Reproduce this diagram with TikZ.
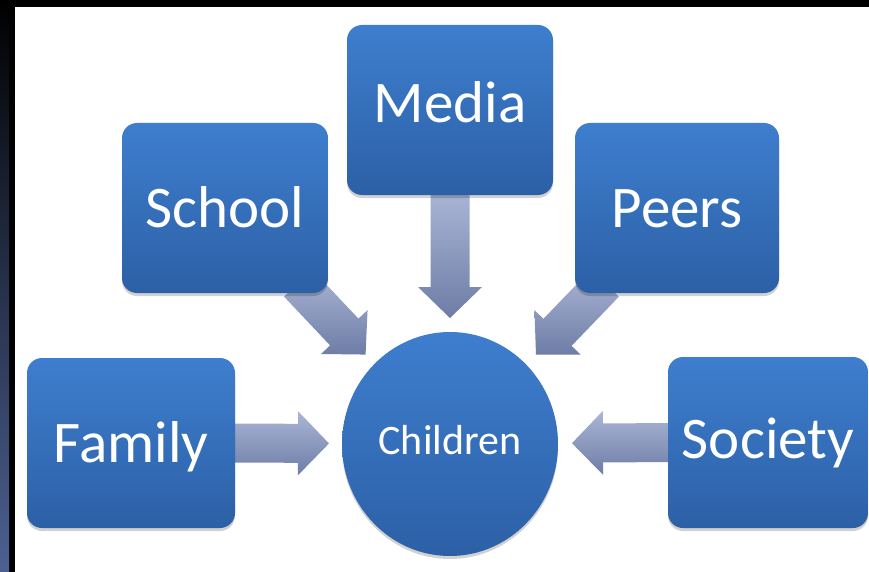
\documentclass[tikz,border=0pt]{standalone}
\usepackage{fontspec}
\setmainfont{Carlito}
\usetikzlibrary{shapes.geometric,calc,backgrounds,shadows}
\definecolor{boxtop}{RGB}{62,126,206}
\definecolor{boxbot}{RGB}{44,96,166}
\definecolor{arrtop}{RGB}{170,182,214}
\definecolor{arrbot}{RGB}{110,125,166}
\definecolor{stripblue}{RGB}{76,96,146}
\newcommand{\blockarr}[2]{%
  \coordinate (#1-h) at ($(#2)!31pt!(#1)$);
  \shade[arrowfill] ($(#1)!19.5pt!90:(#2)$) -- ($(#1-h)!19.5pt!90:(#2)$) --
    ($(#1-h)!32pt!90:(#2)$) -- (#2) -- ($(#1-h)!32pt!-90:(#2)$) --
    ($(#1-h)!19.5pt!-90:(#2)$) -- ($(#1)!19.5pt!-90:(#2)$) -- cycle;}
\begin{document}
\begin{tikzpicture}[x=1pt,y=-1pt,
  box/.style={rectangle, rounded corners=15pt, top color=boxtop, bottom color=boxbot,
    text=white, font=\fontsize{59}{60}\selectfont, minimum width=206pt,
    minimum height=170pt, inner sep=0pt, text height=38pt, text depth=0pt,
    drop shadow={shadow xshift=0pt, shadow yshift=-3pt, opacity=0.18, fill=black}},
  hub/.style={ellipse, top color=boxtop, bottom color=boxbot, text=white,
    font=\fontsize{42}{44}\selectfont, minimum width=216pt, minimum height=224pt,
    inner sep=0pt, text height=21pt, text depth=0pt,
    drop shadow={shadow xshift=0pt, shadow yshift=-3pt, opacity=0.18, fill=black}},
  arrowfill/.style={top color=arrtop, bottom color=arrbot}]
\useasboundingbox (0,0) rectangle (869,572);
\node[box, minimum width=208pt] (family) at (131,443) {Family};
\node[box] (school) at (225,208) {School};
\node[box, text height=26pt] (media) at (450,110) {Media};
\node[box, minimum width=204pt] (peers) at (677,208) {Peers};
\node[box, minimum width=200pt, minimum height=171pt, text height=31pt] (society) at (768,442.5) {Society};
\node[hub] (children) at (450,444) {Children};
\begin{pgfonlayer}{background}
  \fill[black] (0,0) rectangle (869,572);
  \shade[top color=black, bottom color=stripblue] (0,0) rectangle (9,572);
  \fill[white] (15,7) rectangle (869,572);
  \coordinate (famS) at ($(family.east)+(-5,0)$);
  \coordinate (famT) at ($(children.center)!121pt!(famS)$);
  \coordinate (schS) at ($(school.south east)+(-30,-10)$);
  \coordinate (schT) at ($(children.center)!123pt!(schS)$);
  \coordinate (medS) at ($(media.south)+(0,-5)$);
  \coordinate (medT) at ($(children.center)!126pt!(medS)$);
  \coordinate (peeS) at ($(peers.south west)+(30,-10)$);
  \coordinate (peeT) at ($(children.center)!124pt!(peeS)$);
  \coordinate (socS) at ($(society.west)+(5,0)$);
  \coordinate (socT) at ($(children.center)!122pt!(socS)$);
  \blockarr{famS}{famT}
  \blockarr{schS}{schT}
  \blockarr{medS}{medT}
  \blockarr{peeS}{peeT}
  \blockarr{socS}{socT}
\end{pgfonlayer}
\end{tikzpicture}
\end{document}
